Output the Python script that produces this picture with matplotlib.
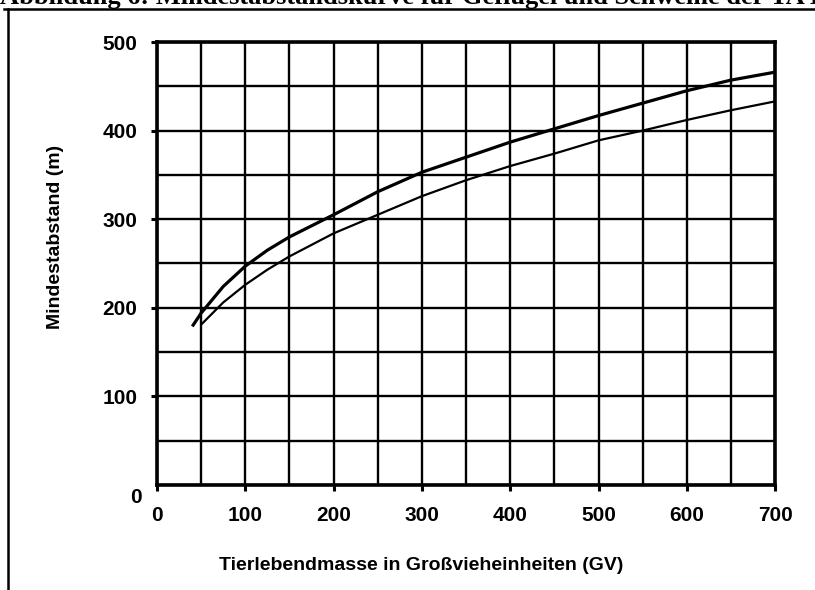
import matplotlib
matplotlib.use("Agg")
import matplotlib.pyplot as plt
from matplotlib.lines import Line2D
from matplotlib.ticker import MultipleLocator

# upper (thicker) curve
x_upper = [40, 50, 75, 100, 125, 150, 200, 250, 300, 350, 400, 450, 500, 550, 600, 650, 700]
y_upper = [179, 194, 224, 247, 265, 280, 305, 331, 353, 370, 387, 402, 417, 431, 445, 457, 466]
# lower (thinner) curve
x_lower = [50, 75, 100, 125, 150, 200, 250, 300, 350, 400, 450, 500, 550, 600, 650, 700]
y_lower = [181, 206, 226, 243, 258, 284, 305, 326, 344, 360, 374, 389, 400, 412, 423, 433]

x_ticks = [0, 100, 200, 300, 400, 500, 600, 700]
y_ticks = [100, 200, 300, 400, 500]

plt.rcParams['font.family'] = ['Liberation Sans', 'DejaVu Sans']

fig = plt.figure(figsize=(8.15, 5.90), dpi=100)
ax = fig.add_axes([0.1926, 0.178, 0.7585, 0.7508])

ax.plot(x_upper, y_upper, color="black", lw=2.3, solid_capstyle="butt", zorder=3)
ax.plot(x_lower, y_lower, color="black", lw=1.6, solid_capstyle="butt", zorder=3)

ax.set_xlim(0, 700)
ax.set_ylim(0, 500)
ax.xaxis.set_minor_locator(MultipleLocator(50))
ax.yaxis.set_minor_locator(MultipleLocator(50))
ax.set_xticks(x_ticks)
ax.set_yticks(y_ticks)
ax.grid(which="both", color="black", lw=1.7, zorder=1)
ax.set_axisbelow(True)

for s in ax.spines.values():
    s.set_linewidth(2.6)
    s.set_zorder(4)

ax.tick_params(which="major", direction="out", length=4, width=2.2,
               labelsize=15, pad=11)
ax.tick_params(which="minor", length=0)
ax.tick_params(axis="y", pad=10)
for lab in ax.get_xticklabels() + ax.get_yticklabels():
    lab.set_fontweight("bold")

# y "0" label sits a bit below the axis in the original
ax.annotate("0", xy=(0, 0), xycoords="data", xytext=(-11, -9),
            textcoords="offset points", ha="right", va="center",
            fontsize=15, fontweight="bold")

fig.text(0.0675, 0.598, "Mindestabstand (m)", rotation=90, ha="center",
         va="center", fontsize=14, fontweight="bold")
fig.text(0.5166, 0.042, "Tierlebendmasse in Großvieheinheiten (GV)",
         ha="center", va="center", fontsize=14, fontweight="bold")

# caption cut off by the top edge, as in the scanned page
fig.text(0.0, 1 - 4 / 590, "Abbildung 6: Mindestabstandskurve für Geflügel und Schweine der TA Luft",
         ha="left", va="baseline", fontsize=19, fontweight="bold",
         family="Liberation Serif")
fig.add_artist(Line2D([4 / 815, 1.0], [1 - 8.5 / 590, 1 - 8.5 / 590],
                      transform=fig.transFigure, color="black", lw=1.8))
fig.add_artist(Line2D([8 / 815, 8 / 815], [0, 1 - 8.5 / 590],
                      transform=fig.transFigure, color="black", lw=1.8))

fig.savefig("out.png", dpi=100)
